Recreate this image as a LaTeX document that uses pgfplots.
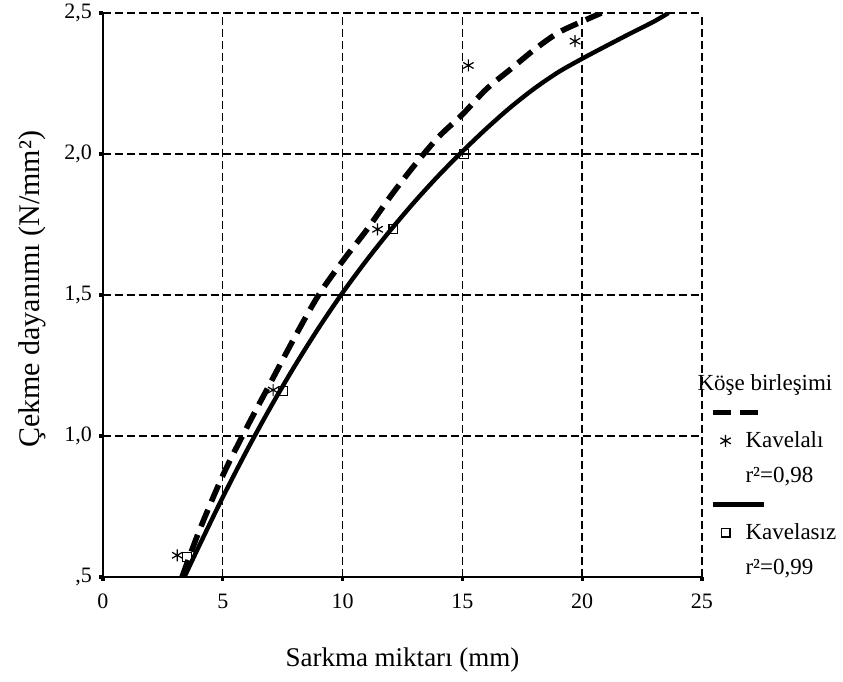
\documentclass[border=0pt]{standalone}
\usepackage{fontspec}
\setmainfont{Liberation Serif}
\usepackage{pgfplots}
\pgfplotsset{compat=1.18}
\pgfplotsset{
  lineleg/.style={legend image code/.code={\draw[##1, overlay] (0pt,0pt) -- (25.5pt,0pt); \path[draw=none] (0pt,0pt) -- (14.5pt,0pt);}},
  markleg/.style={legend image code/.code={\path[draw=none] (0pt,0pt) -- (14.5pt,0pt); \draw[##1] plot[only marks] coordinates {(6.5pt,0pt)};}},
}

\begin{document}
\begin{tikzpicture}
\begin{axis}[
  name=ax,
  scale only axis, width=299.5pt, height=282pt,
  xmin=0, xmax=25, ymin=0.5, ymax=2.5,
  xtick={0,5,10,15,20,25}, xticklabels={0,5,10,15,20,25},
  ytick={0.5,1,1.5,2,2.5}, yticklabels={{,5},{1,0},{1,5},{2,0},{2,5}},
  axis x line*=bottom, axis y line*=left,
  axis line style={line width=1pt, -},
  tick align=outside, major tick length=2pt,
  tick style={line width=1.6pt, black},
  ticklabel style={font=\fontsize{11}{13}\selectfont},
  xticklabel style={yshift=-3pt},
  grid=major,
  major grid style={black, line width=0.7pt, dash pattern=on 4pt off 2pt},
  xlabel={Sarkma miktarı (mm)},
  ylabel={Çekme dayanımı (N/mm²)},
  x label style={at={(axis description cs:0.5,-0.147)}, anchor=center, font=\fontsize{13.5}{16}\selectfont},
  y label style={at={(axis description cs:-0.118,0.51)}, anchor=center, font=\fontsize{15}{17}\selectfont},
  legend cell align=left,
  legend style={draw=none, fill=none, inner sep=0pt,
    at={(1.017,0.366)}, anchor=north west,
    font=\fontsize{11.5}{13}\selectfont, row sep=4.6pt},
]
% fitted curves
\addplot[forget plot, black, line width=2.8pt, dash pattern=on 9pt off 4.5pt, smooth] coordinates {
  (3.3,0.50) (4,0.66) (5,0.86) (6,1.03) (7,1.19) (8,1.35) (9,1.50)
  (10,1.62) (11,1.73) (12,1.85) (13,1.96) (14,2.06) (15,2.14) (16,2.23)
  (17,2.30) (18,2.37) (19,2.43) (20,2.47) (20.8,2.50)};
\addplot[forget plot, black, line width=2.2pt, smooth] coordinates {
  (3.4,0.50) (4,0.608) (5,0.783) (6,0.948) (7,1.103) (8,1.248) (9,1.383)
  (10,1.508) (11,1.623) (12,1.73) (13,1.83) (14,1.923) (15,2.009) (16,2.09)
  (17,2.165) (18,2.232) (19,2.29) (20,2.338) (21,2.383) (22,2.427) (23,2.47) (23.6,2.50)};

\addlegendimage{empty legend}
\addlegendentry{\hspace*{-24pt}Köşe birleşimi}
\addlegendimage{black, line width=2.8pt, dash pattern=on 9pt off 4.5pt, lineleg}
\addlegendentry{}
\addplot[only marks, mark=asterisk, mark size=3pt, line width=0.6pt, black, markleg] coordinates {
  (3.1,0.577) (7.1,1.163) (11.46,1.733) (15.25,2.314) (19.7,2.40)};
\addlegendentry{Kavelalı}
\addlegendimage{empty legend}
\addlegendentry{r²=0,98}
\addlegendimage{black, line width=2.2pt, lineleg}
\addlegendentry{}
\addplot[only marks, mark=square, mark size=2.2pt, line width=0.6pt, black, markleg] coordinates {
  (3.5,0.57) (7.52,1.16) (12.12,1.733) (15.06,2.0)};
\addlegendentry{Kavelasız}
\addlegendimage{empty legend}
\addlegendentry{r²=0,99}
\end{axis}
\pgfresetboundingbox
\path ([xshift=-51.5pt,yshift=-52.5pt]ax.south west) rectangle ([xshift=370pt,yshift=6.5pt]ax.north west);
\end{tikzpicture}
\end{document}
